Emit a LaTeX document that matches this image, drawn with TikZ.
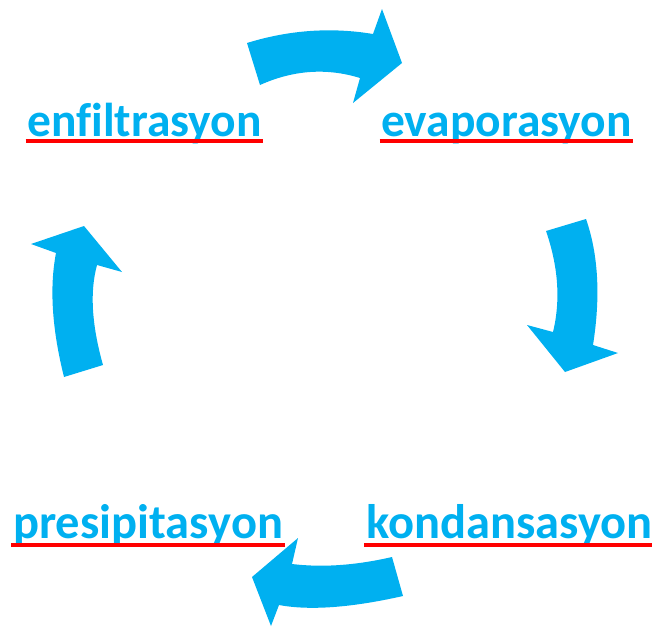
\documentclass[tikz,border=0pt]{standalone}
\usepackage{fontspec}
\setmainfont{Carlito}[Ligatures=NoCommon]
\definecolor{cblue}{HTML}{00B0F0}
\definecolor{cred}{HTML}{FF0000}
\begin{document}
\begin{tikzpicture}[x=1pt,y=-1pt,
  lbl/.style={inner sep=0pt,anchor=base west,text=cblue,font=\fontsize{47.5}{50}\selectfont\bfseries},
  lblb/.style={lbl,font=\fontsize{48.5}{50}\selectfont\bfseries},
  ul/.style={draw=cred,line width=4.5pt},
  blockarrow/.style={fill=cblue,draw=none}]
\useasboundingbox (0,0) rectangle (652,627);
% labels
\node[lbl] (enf) at (27,136.5) {enfiltrasyon};
\node[lbl] (eva) at (381,136.5) {evaporasyon};
\node[lblb] (pre) at (13,538.5) {presipitasyon};
\node[lblb] (kon) at (366,538.5) {kondansasyon};
% underlines
\foreach \n in {enf,eva}{
  \draw[ul] ([xshift=-1.5pt,yshift=-4.5pt]\n.base west) -- ([xshift=1.5pt,yshift=-4.5pt]\n.base east);
}
\foreach \n in {pre,kon}{
  \draw[ul] ([xshift=-2pt,yshift=-6.5pt]\n.base west) -- ([xshift=1.5pt,yshift=-6.5pt]\n.base east);
}
% top arrow
\fill[blockarrow] (247,43) .. controls (289,30) and (331,27) .. (373,34)
  -- (382,9) -- (402,63) -- (353,103) -- (360,78)
  .. controls (326.7,67.7) and (293.3,70) .. (260,85) -- cycle;
% right arrow
\fill[blockarrow] (586,219) .. controls (598.3,254.3) and (600.7,296.3) .. (593,345)
  -- (618,353) -- (565,372) -- (527,325) -- (553,332)
  .. controls (560.7,300.3) and (558.3,266.7) .. (546,231) -- cycle;
% bottom arrow
\fill[blockarrow] (392,557) .. controls (356,565.3) and (322.7,567.7) .. (292,564)
  -- (298,538) -- (252,577) -- (271,626) -- (279,605)
  .. controls (309.7,610.7) and (351,607.7) .. (403,596) -- cycle;
% left arrow
\fill[blockarrow] (103,365) .. controls (91.7,325) and (89.7,291.7) .. (97,265)
  -- (122,272) -- (84,226) -- (31,244) -- (56,253)
  .. controls (49.3,287.7) and (52,329) .. (64,377) -- cycle;
\end{tikzpicture}
\end{document}
